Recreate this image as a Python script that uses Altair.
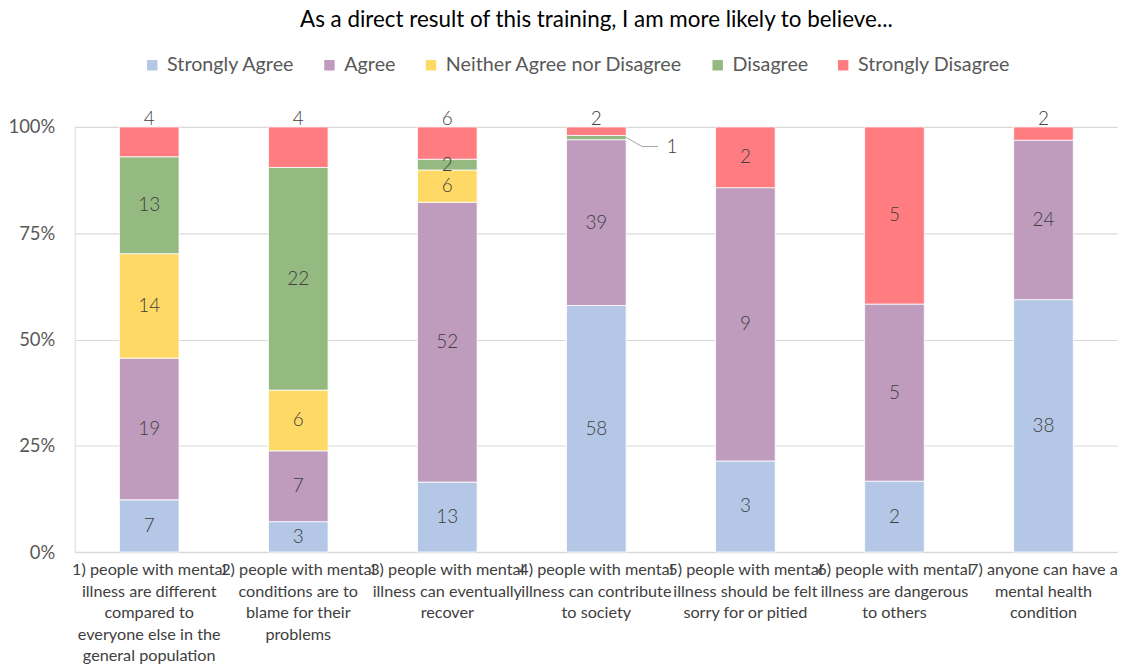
import altair as alt
import pandas as pd

title_text = "As a direct result of this training, I am more likely to believe..."

question_lines = [
    ["1) people with mental", "illness are different", "compared to", "everyone else in the", "general population"],
    ["2) people with mental", "conditions are to", "blame for their", "problems"],
    ["3) people with mental", "illness can eventually", "recover"],
    ["4) people with mental", "illness can contribute", "to society"],
    ["5) people with mental", "illness should be felt", "sorry for or pitied"],
    ["6) people with mental", "illness are dangerous", "to others"],
    ["7) anyone can have a", "mental health", "condition"],
]
responses = ["Strongly Agree", "Agree", "Neither Agree nor Disagree", "Disagree", "Strongly Disagree"]
colors = ["#B4C7E7", "#BF9BBE", "#FFD966", "#94B981", "#FF7C80"]

strongly_agree = [7, 3, 13, 58, 3, 2, 38]
agree = [19, 7, 52, 39, 9, 5, 24]
neither = [14, 6, 6, 0, 0, 0, 0]
disagree = [13, 22, 2, 1, 0, 0, 0]
strongly_disagree = [4, 4, 6, 2, 2, 5, 2]

questions = ["\n".join(l) for l in question_lines]
series = [strongly_agree, agree, neither, disagree, strongly_disagree]

rows = []
for i, q in enumerate(questions):
    total = sum(s[i] for s in series)
    cum = 0.0
    for r, s in zip(responses, series):
        v = s[i]
        if v == 0:
            continue
        share = v / total
        start, end = cum, cum + share
        cum = end
        if share < 0.02:
            place = "outside"
        elif r == "Strongly Disagree" and share < 0.1:
            place = "above"
        else:
            place = "center"
        rows.append(dict(q=q, response=r, count=v, start=start, end=end,
                         mid=(start + end) / 2, top=end, place=place,
                         order=responses.index(r)))
df = pd.DataFrame(rows)

MAIN = "Lato, Carlito, Open Sans, sans-serif"
GRAY = "#595959"
DARK = "#404040"

xenc = alt.X("q:N", sort=questions,
             scale=alt.Scale(paddingInner=0.6, paddingOuter=0.3),
             axis=alt.Axis(title=None, labelAngle=0, labelAlign="center", labelBaseline="top",
                           labelExpr="split(datum.label, '\\n')", labelFont=MAIN,
                           labelFontSize=16.3, labelLineHeight=21.5, labelColor=DARK,
                           labelLimit=300, labelPadding=10, ticks=False, domainColor="#d9d9d9",
                           domainWidth=1.5, labelOverlap=False))

base = alt.Chart(df)

bars = base.mark_bar(stroke="white", strokeWidth=0.8).encode(
    x=xenc,
    y=alt.Y("start:Q", scale=alt.Scale(domain=[0, 1], nice=False),
            axis=alt.Axis(title=None, values=[0, 0.25, 0.5, 0.75, 1], format=".0%",
                          grid=True, gridColor="#d9d9d9", gridWidth=1.2, domain=False, ticks=False,
                          labelFont=MAIN, labelFontSize=18.5, labelColor=GRAY, labelPadding=20)),
    y2="end:Q",
    color=alt.Color("response:N", sort=responses,
                    scale=alt.Scale(domain=responses, range=colors),
                    legend=alt.Legend(title=None, orient="none", direction="horizontal",
                                      legendX=68, legendY=-72, symbolType="square", symbolSize=110,
                                      symbolStrokeWidth=0, labelFont=MAIN, labelFontSize=19.8,
                                      labelColor=GRAY, columnPadding=25, labelOffset=5,
                                      labelLimit=400)),
    order=alt.Order("order:Q"),
)

center_labels = base.transform_filter(alt.datum.place == "center").mark_text(
    font=MAIN, fontSize=19, fontWeight=300, color=DARK, baseline="middle"
).encode(x=alt.X("q:N", sort=questions), y="mid:Q", text="count:Q")

above_labels = base.transform_filter(alt.datum.place == "above").mark_text(
    font=MAIN, fontSize=19, fontWeight=300, color=DARK, baseline="middle", dy=-8
).encode(x=alt.X("q:N", sort=questions), y="top:Q", text="count:Q")

outside_labels = base.transform_filter(alt.datum.place == "outside").mark_text(
    font=MAIN, fontSize=19, fontWeight=300, color=DARK, baseline="middle", dx=76, dy=9
).encode(x=alt.X("q:N", sort=questions), y="mid:Q", text="count:Q")

leader1 = base.transform_filter(alt.datum.place == "outside").mark_rule(
    color="#a6a6a6", strokeWidth=1, xOffset=30, x2Offset=46, y2Offset=9
).encode(x=alt.X("q:N", sort=questions), x2="q:N", y="mid:Q", y2="mid:Q")

leader2 = base.transform_filter(alt.datum.place == "outside").mark_rule(
    color="#a6a6a6", strokeWidth=1, xOffset=46, x2Offset=62, yOffset=9, y2Offset=9
).encode(x=alt.X("q:N", sort=questions), x2="q:N", y="mid:Q", y2="mid:Q")

chart = alt.layer(bars, center_labels, above_labels, outside_labels, leader1, leader2).properties(
    width=1048, height=427,
    title=alt.Title(title_text, font=MAIN, fontSize=22.5, fontWeight="normal", color="#000000",
                    anchor="middle", offset=24),
    autosize=alt.AutoSizeParams(type="none"),
    padding={"left": 67, "top": 118, "right": 0, "bottom": 112},
).configure_view(stroke=None).configure(background="white")

chart.save("out.html", embed_options={"renderer": "svg", "actions": False})
